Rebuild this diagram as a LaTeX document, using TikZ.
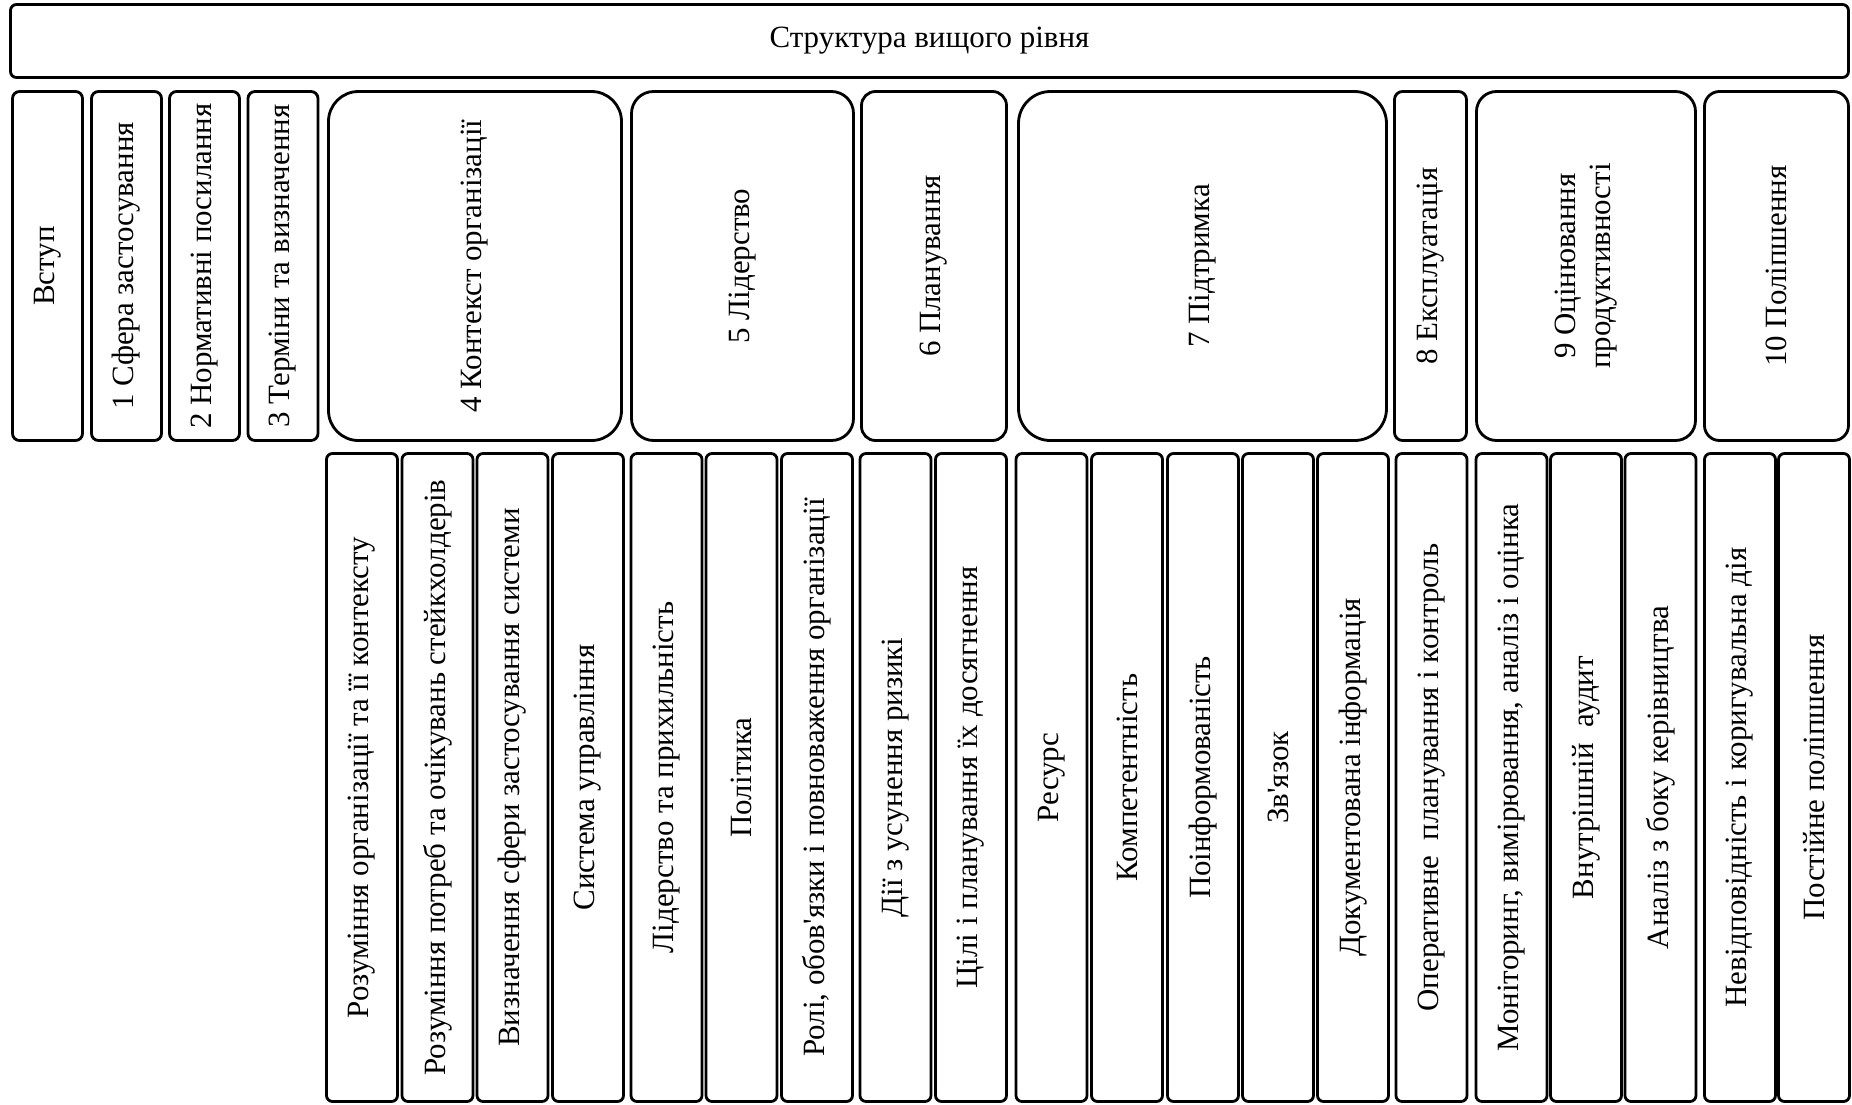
\documentclass[tikz,border=0pt]{standalone}
\usepackage{fontspec}
\setmainfont{Liberation Serif}
\usepackage{tikz}
\usetikzlibrary{positioning}

\begin{document}
\begin{tikzpicture}[
      font=\fontsize{8.8}{10}\selectfont,
      head/.style={draw=black,line width=0.8pt,rounded corners=0.06cm,minimum width=18.38cm,minimum height=0.73cm,inner sep=1pt},
      part/.style={draw=black,line width=0.8pt,rounded corners=0.07cm,rotate=90,minimum width=3.49cm,minimum height=0.70cm,inner sep=1pt,align=center},
      clause/.style={draw=black,line width=0.8pt,rounded corners=0.06cm,rotate=90,minimum width=6.48cm,minimum height=0.71cm,inner sep=1pt}
    ]
      \useasboundingbox (0,0) rectangle (18.52,-11.05);

      \node[head] (top) at (9.295,-0.41) {Структура вищого рівня};

      % main clauses
      \node[part] (intro) at (0.475,-2.66) {Вступ};
      \node[part] (scope) at (1.265,-2.66) {1 Сфера застосування};
      \node[part] (refs) at (2.045,-2.66) {2 Нормативні посилання};
      \node[part] (terms) at (2.83,-2.66) {3 Терміни та визначення};
      \node[part,minimum height=2.93cm,rounded corners=0.30cm] (context) at (4.75,-2.66) {4 Контекст організації};
      \node[part,minimum height=2.22cm,rounded corners=0.22cm] (lead) at (7.425,-2.66) {5 Лідерство};
      \node[part,minimum height=1.45cm,rounded corners=0.14cm] (plan) at (9.34,-2.66) {6 Планування};
      \node[part,minimum height=3.68cm,rounded corners=0.32cm] (support) at (12.025,-2.66) {7 Підтримка};
      \node[part,minimum height=0.72cm,rounded corners=0.08cm] (oper) at (14.305,-2.66) {8 Експлуатація};
      \node[part,minimum height=2.19cm,rounded corners=0.20cm] (perf) at (15.86,-2.66) {9 Оцінювання\\продуктивності};
      \node[part,minimum height=1.44cm,rounded corners=0.15cm] (impr) at (17.765,-2.66) {10 Поліпшення};

      % sub-clauses
      \node[clause] (ctxorg) at (3.62,-7.775) {Розуміння організації та її контексту};
      \node[clause] (ctxneeds) at (4.375,-7.775) {Розуміння потреб та очікувань стейкхолдерів};
      \node[clause] (ctxscope) at (5.125,-7.775) {Визначення сфери застосування системи};
      \node[clause] (ctxsys) at (5.88,-7.775) {Система управління};
      \node[clause] (leadcomm) at (6.665,-7.775) {Лідерство та прихильність};
      \node[clause] (policy) at (7.415,-7.775) {Політика};
      \node[clause] (roles) at (8.17,-7.775) {Ролі, обов\textquotesingle язки і повноваження організації};
      \node[clause] (risks) at (8.955,-7.775) {Дії з усунення ризикі};
      \node[clause] (goals) at (9.71,-7.775) {Цілі і планування їх досягнення};
      \node[clause] (res) at (10.515,-7.775) {Ресурс};
      \node[clause] (comp) at (11.27,-7.775) {Компетентність};
      \node[clause] (aware) at (12.03,-7.775) {Поінформованість};
      \node[clause] (comm) at (12.78,-7.775) {Зв\textquotesingle язок};
      \node[clause] (docs) at (13.53,-7.775) {Документована інформація};
      \node[clause] (opctl) at (14.315,-7.775) {Оперативне\ \ планування і контроль};
      \node[clause] (monitor) at (15.115,-7.775) {Моніторинг, вимірювання, аналіз і оцінка};
      \node[clause] (audit) at (15.86,-7.775) {Внутрішній\ \ аудит};
      \node[clause] (review) at (16.605,-7.775) {Аналіз з боку керівництва};
      \node[clause] (nonconf) at (17.40,-7.775) {Невідповідність і коригувальна дія};
      \node[clause] (contimpr) at (18.14,-7.775) {Постійне поліпшення};
    \end{tikzpicture}
\end{document}
